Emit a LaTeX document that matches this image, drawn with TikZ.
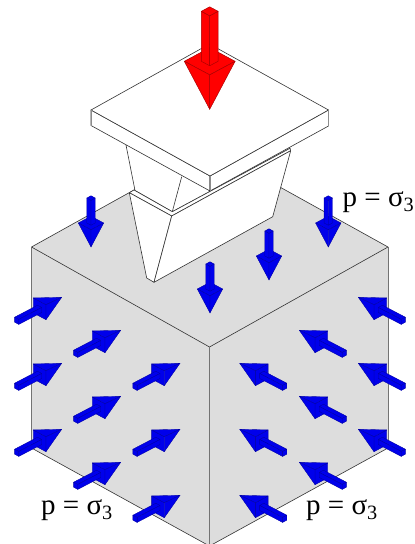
\documentclass[tikz,border=0pt]{standalone}
\usepackage{fontspec}
\setmainfont{Liberation Serif}
\usepackage{tikz}
\definecolor{cubegray}{RGB}{221,221,221}
\definecolor{loadblue}{RGB}{0,0,235}
\definecolor{loadred}{RGB}{255,0,0}
\tikzset{
	downaxes/.style={x={(-6.35pt,-3.4pt)}, y={(6.35pt,-3.4pt)}, z={(0pt,49pt)}},
	rightaxes/.style={x={(0pt,7.5pt)}, y={(6.35pt,-3.4pt)}, z={(-45pt,-23.5pt)}},
	leftaxes/.style={x={(0pt,7.5pt)}, y={(-6.35pt,-3.4pt)}, z={(45pt,-23.5pt)}},
	bluearrow/.style={fill=loadblue, draw=loadblue!70!black, line width=0.35pt, line join=round},
	redarrow/.style={fill=loadred, draw=loadred!65!black, line width=0.45pt, line join=round, scale=2},
	edgeline/.style={draw=black!80, line width=0.6pt, line join=round},
	pressure/.style={font=\fontsize{29}{29}\selectfont, inner sep=0pt},
	loadarrow/.pic={
		% head
		\filldraw (1,1,0.49) -- (1,-1,0.49) -- (-1,-1,0.49) -- (-1,1,0.49) -- cycle;
		\filldraw (0,0,0) -- (1,-1,0.49) -- (1,1,0.49) -- cycle;
		\filldraw (0,0,0) -- (1,1,0.49) -- (-1,1,0.49) -- cycle;
		% shaft
		\filldraw (0.33,-0.33,0.49) -- (0.33,0.33,0.49) -- (0.33,0.33,1) -- (0.33,-0.33,1) -- cycle;
		\filldraw (0.33,0.33,0.49) -- (-0.33,0.33,0.49) -- (-0.33,0.33,1) -- (0.33,0.33,1) -- cycle;
		\filldraw (0.33,0.33,1) -- (0.33,-0.33,1) -- (-0.33,-0.33,1) -- (-0.33,0.33,1) -- cycle;
	}
}
\begin{document}
\begin{tikzpicture}[x=1pt, y=-1pt]
	\useasboundingbox (0,0) rectangle (415,544);

	% Cube
	\coordinate (cubeL) at (31.5,247);
	\coordinate (cubeB) at (209.5,148);
	\coordinate (cubeR) at (388,247);
	\coordinate (cubeF) at (209.5,347);
	\coordinate (cubeLL) at (31.5,448);
	\coordinate (cubeRR) at (388,448);
	\coordinate (cubeFF) at (209.5,546);
	\fill[cubegray] (cubeL) -- (cubeB) -- (cubeR) -- (cubeRR) -- (cubeFF) -- (cubeLL) -- cycle;
	\draw[edgeline] (cubeL) -- (cubeB) -- (cubeR) -- (cubeF) -- cycle;
	\draw[edgeline] (cubeLL) -- (cubeFF) -- (cubeRR);
	\draw[draw=black!55, line width=0.7pt] (cubeL) -- (cubeLL) (cubeF) -- (cubeFF) (cubeR) -- (cubeRR);

	% Punch
	\filldraw[fill=white, edgeline] (126,145) -- (135,190.5) -- (172.3,211.7) -- (290,148.3) -- (280,130) -- cycle;
	\draw[edgeline] (181.7,176.7) -- (172.3,211.7);
	\filldraw[fill=white, edgeline] (129.3,192.7) -- (134,190) -- (172.3,211.7) -- (290,148.3) -- (290.7,150.7) -- (171.7,216) -- cycle;
	\filldraw[fill=white, edgeline] (129.3,192.7) -- (171.7,216) -- (154,282.3) -- (146.7,278) -- cycle;
	\filldraw[fill=white, edgeline] (171.7,216) -- (290.7,150.7) -- (272.7,216.7) -- (154,282.3) -- cycle;

	% Plate
	\filldraw[fill=white, edgeline] (91,110) -- (210,176) -- (210,191) -- (91,125.5) -- cycle;
	\filldraw[fill=white, edgeline] (210,176) -- (328.5,110) -- (328.5,126) -- (210,191) -- cycle;
	\filldraw[fill=white, edgeline] (91,110) -- (209.5,44) -- (328.5,110) -- (210,176) -- cycle;
	\draw[draw=black!45, line width=0.7pt] (91,110) -- (91,125.5) (210,176) -- (210,191) (328.5,110) -- (328.5,126);

	% Red load
	\pic[downaxes, shift={(209.7pt,-109.3pt)}, redarrow] {loadarrow};

	% Blue loads, top face
	\foreach \tipx/\tipy in {91/247, 328.3/247, 269/280, 210/313}
		\pic[downaxes, shift={(\tipx pt,-\tipy pt)}, bluearrow] {loadarrow};

	% Blue loads, left face
	\foreach \tipx/\tipy in {61.7/297.3, 120.7/330.3, 61.7/363.3, 180/363.3, 120.7/396.3, 61.7/429.3, 180/429.3, 120.7/462.3, 180/495.3}
		\pic[rightaxes, shift={(\tipx pt,-\tipy pt)}, bluearrow] {loadarrow};

	% Blue loads, right face
	\foreach \tipx/\tipy in {358.3/297.3, 299.3/330.3, 239.7/363.3, 358.3/363.3, 299.3/396.3, 239.7/429.3, 358.3/429.3, 299.3/462.3, 239.7/495.3}
		\pic[leftaxes, shift={(\tipx pt,-\tipy pt)}, bluearrow] {loadarrow};

	% Labels
	\node[pressure] (pressTop) at (378.5,202) {p = σ\textsubscript{3}};
	\node[pressure] (pressLeft) at (77,510) {p = σ\textsubscript{3}};
	\node[pressure] (pressRight) at (342,510) {p = σ\textsubscript{3}};
\end{tikzpicture}
\end{document}
